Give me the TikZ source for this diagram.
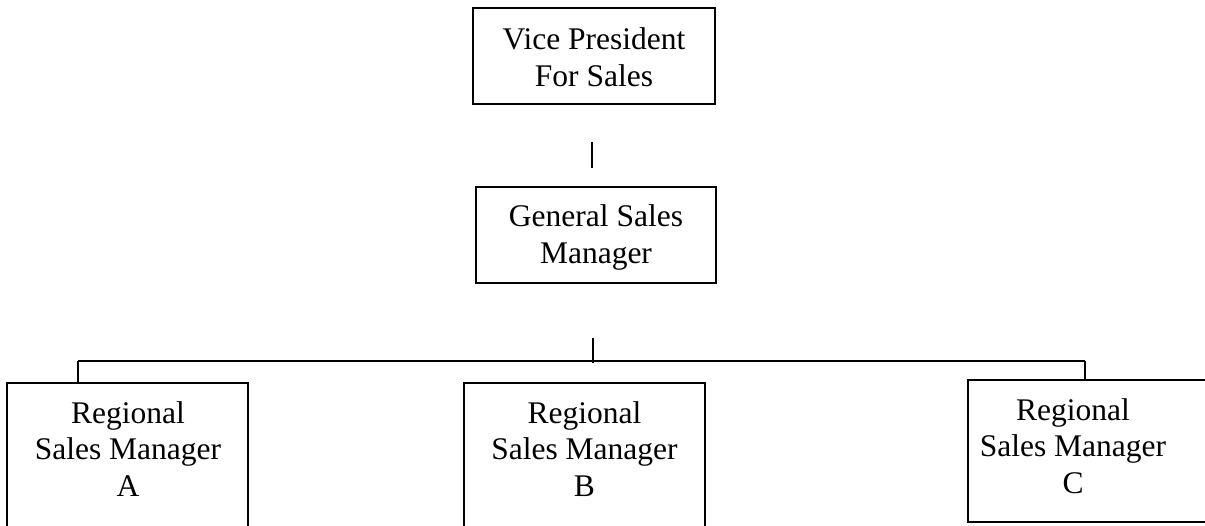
\documentclass[tikz,border=0pt]{standalone}
\usepackage{fontspec}
\setmainfont{Liberation Serif}
\begin{document}
\begin{tikzpicture}[x=1pt,y=-1pt,
  conn/.style={draw, line width=1.5pt},
  box/.style={draw, line width=1.5pt, inner sep=0pt},
  lbl/.style={align=center, inner sep=0pt, font=\fontsize{31.5}{36.5}\selectfont}]
\useasboundingbox (0,0) rectangle (1205,525);
\clip (0,0) rectangle (1205,525);
% boxes
\node[box, minimum width=242pt, minimum height=96pt] (vp) at (594,56) {};
\node[lbl, text depth=0pt] (vpt) at (594,57) {Vice President\\For Sales};
\node[box, minimum width=240pt, minimum height=96pt] (gsm) at (596,235) {};
\node[lbl, text depth=0pt] (gsmt) at (596,234) {General Sales\\Manager};
\node[box, minimum width=241pt, minimum height=177pt] (a) at (127.5,471.5) {};
\node[lbl, anchor=north] (at) at (128,401) {Regional\\Sales Manager\\A};
\node[box, minimum width=241pt, minimum height=177pt] (b) at (584.5,471.5) {};
\node[lbl, anchor=north] (bt) at (584.5,401) {Regional\\Sales Manager\\B};
\node[box, minimum width=250pt, minimum height=142pt] (c) at (1093,451) {};
\node[lbl, anchor=north] (ct) at (1073,398) {Regional\\Sales Manager\\C};
% connectors
\coordinate (v1) at (592,142);
\coordinate (v2) at (592,168);
\path[conn] (v1) -- (v2);
\coordinate (stubT) at (593,338);
\coordinate (busL) at (78,361);
\coordinate (busR) at (1085,361);
\path[conn] (stubT) -- ([yshift=-2pt]stubT |- busL);
\path[conn] (busL) -- (busR);
\path[conn] (busL) -- (busL |- a.north);
\path[conn] (busR) -- (busR |- c.north);
\end{tikzpicture}
\end{document}
